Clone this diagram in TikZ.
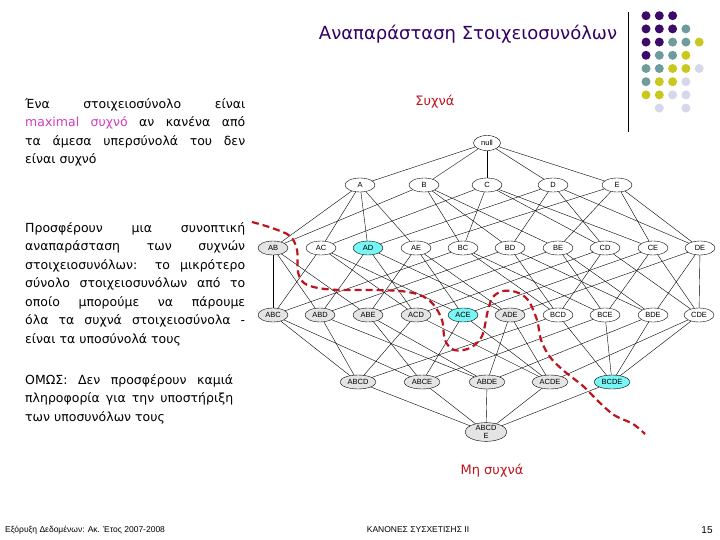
\documentclass[tikz,border=0pt]{standalone}
\usepackage{fontspec}
\setmainfont{DejaVu Sans}
\newfontfamily\nodefont{Liberation Sans}
\usepackage{xcolor}
\usepackage{tikz}
\usetikzlibrary{shapes.geometric}
\definecolor{colTitle}{RGB}{51,0,102}
\definecolor{colRed}{RGB}{190,20,30}
\definecolor{colPink}{RGB}{210,60,190}
\definecolor{colInfreq}{RGB}{228,228,228}
\definecolor{colMax}{RGB}{120,245,245}
\definecolor{colDotA}{RGB}{60,10,105}
\definecolor{colDotB}{RGB}{110,155,155}
\definecolor{colDotC}{RGB}{200,200,30}
\definecolor{colDotD}{RGB}{215,215,235}
\tikzset{
  item/.style={
    draw, ellipse, inner sep=0pt, fill=white,
    minimum width=30pt, minimum height=14pt,
    font=\nodefont\fontsize{7.5}{7.5}\selectfont
  },
  infreq/.style={item, fill=colInfreq},
  maxfreq/.style={item, fill=colMax},
  wide/.style={minimum width=36pt},
  link/.style={draw, line width=0.4pt},
  border/.style={
    draw=colRed, line width=2.2pt, dash pattern=on 7pt off 4pt
  },
  bodytext/.style={
    anchor=north west, inner sep=0pt, text width=220pt, align=justify,
    font=\fontsize{12.5}{18.5}\selectfont
  },
  redlabel/.style={
    text=colRed, font=\fontsize{13}{16}\selectfont
  },
  foot/.style={font=\nodefont\fontsize{8.5}{10}\selectfont, inner sep=0pt}
}

\begin{document}
\begin{tikzpicture}[x=1pt, y=-1pt]
\useasboundingbox (0,0) rectangle (720,540);

% ── Title and decoration ───────────────────────────────────────────────────
\node[text=colTitle, font=\fontsize{18}{22}\selectfont] (title) at (468,34)
  {Αναπαράσταση Στοιχειοσυνόλων};
\coordinate (ruleTop) at (628,12);
\coordinate (ruleBot) at (628,132);
\draw[line width=0.6pt] (ruleTop) -- (ruleBot);

\foreach \c/\r/\col in {
  0/0/colDotA, 1/0/colDotA, 2/0/colDotA,
  0/1/colDotA, 1/1/colDotA, 2/1/colDotA, 3/1/colDotB,
  0/2/colDotA, 1/2/colDotA, 2/2/colDotB, 3/2/colDotB, 4/2/colDotC,
  0/3/colDotA, 1/3/colDotB, 2/3/colDotB, 3/3/colDotC,
  0/4/colDotB, 1/4/colDotB, 2/4/colDotC, 3/4/colDotC, 4/4/colDotD,
  0/5/colDotB, 1/5/colDotC, 2/5/colDotC, 3/5/colDotD,
  0/6/colDotC, 1/6/colDotC, 2/6/colDotD, 3/6/colDotD,
  1/7/colDotD, 3/7/colDotD}
  \fill[\col] ({646+13.3*\c},{15.7+13.2*\r}) circle (4.5);

% ── Left text ──────────────────────────────────────────────────────────────
\node[bodytext] (tDef) at (25,98)
  {Ένα στοιχειοσύνολο είναι\linebreak
   \textcolor{colPink}{maximal συχνό} αν κανένα από\linebreak
   τα άμεσα υπερσύνολά του δεν\linebreak
   είναι συχνό};
\node[bodytext] (tBorder) at (25,222)
  {Προσφέρουν μια συνοπτική\linebreak
   αναπαράσταση των συχνών\linebreak
   στοιχειοσυνόλων: το μικρότερο\linebreak
   σύνολο στοιχειοσυνόλων από το\linebreak
   οποίο μπορούμε να πάρουμε\linebreak
   όλα τα συχνά στοιχειοσύνολα -\linebreak
   είναι τα υποσύνολά τους};
\node[bodytext, text width=208pt] (tNote) at (25,374)
  {ΟΜΩΣ: Δεν προσφέρουν καμιά\linebreak
   πληροφορία για την υποστήριξη\linebreak
   των υποσυνόλων τους};

% ── Lattice nodes ──────────────────────────────────────────────────────────
\node[item, minimum width=27pt, minimum height=15pt] (null) at (487,143) {null};

% Level 1
\node[item] (A) at (360,185) {A};
\node[item] (B) at (424,185) {B};
\node[item] (C) at (487,185) {C};
\node[item] (D) at (553,185) {D};
\node[item] (E) at (617,185) {E};

% Level 2
\node[infreq]  (AB) at (273,248) {AB};
\node[item]    (AC) at (321,248) {AC};
\node[maxfreq] (AD) at (368,248) {AD};
\node[item]    (AE) at (416,248) {AE};
\node[item]    (BC) at (463,248) {BC};
\node[item]    (BD) at (510,248) {BD};
\node[item]    (BE) at (558,248) {BE};
\node[item]    (CD) at (605,248) {CD};
\node[item]    (CE) at (653,248) {CE};
\node[item]    (DE) at (700,248) {DE};

% Level 3
\node[infreq]  (ABC) at (273,315) {ABC};
\node[infreq]  (ABD) at (320,315) {ABD};
\node[infreq]  (ABE) at (368,315) {ABE};
\node[infreq]  (ACD) at (416,315) {ACD};
\node[maxfreq] (ACE) at (463,315) {ACE};
\node[infreq]  (ADE) at (510,315) {ADE};
\node[item]    (BCD) at (558,315) {BCD};
\node[item]    (BCE) at (605,315) {BCE};
\node[item]    (BDE) at (653,315) {BDE};
\node[item]    (CDE) at (699,315) {CDE};

% Level 4
\node[infreq, wide]  (ABCD) at (358,382) {ABCD};
\node[infreq, wide]  (ABCE) at (422,382) {ABCE};
\node[infreq, wide]  (ABDE) at (487,382) {ABDE};
\node[infreq, wide]  (ACDE) at (550,382) {ACDE};
\node[maxfreq, wide] (BCDE) at (612,382) {BCDE};

% Level 5
\node[infreq, minimum width=42pt, minimum height=17pt, align=center,
      font=\nodefont\fontsize{7.5}{8}\selectfont] (ABCDE) at (486,432) {ABCD\\E};

% ── Lattice links ──────────────────────────────────────────────────────────
\foreach \a in {A,B,C,D,E}
  \draw[link] (null) -- (\a);
\foreach \a/\b in {A/AB,A/AC,A/AD,A/AE, B/AB,B/BC,B/BD,B/BE,
                   C/AC,C/BC,C/CD,C/CE, D/AD,D/BD,D/CD,D/DE,
                   E/AE,E/BE,E/CE,E/DE}
  \draw[link] (\a) -- (\b);
\foreach \a/\b in {AB/ABC,AB/ABD,AB/ABE, AC/ABC,AC/ACD,AC/ACE,
                   AD/ABD,AD/ACD,AD/ADE, AE/ABE,AE/ACE,AE/ADE,
                   BC/ABC,BC/BCD,BC/BCE, BD/ABD,BD/BCD,BD/BDE,
                   BE/ABE,BE/BCE,BE/BDE, CD/ACD,CD/BCD,CD/CDE,
                   CE/ACE,CE/BCE,CE/CDE, DE/ADE,DE/BDE,DE/CDE}
  \draw[link] (\a) -- (\b);
\foreach \a/\b in {ABC/ABCD,ABC/ABCE, ABD/ABCD,ABD/ABDE, ABE/ABCE,ABE/ABDE,
                   ACD/ABCD,ACD/ACDE, ACE/ABCE,ACE/ACDE, ADE/ABDE,ADE/ACDE,
                   BCD/ABCD,BCD/BCDE, BCE/ABCE,BCE/BCDE, BDE/ABDE,BDE/BCDE,
                   CDE/ACDE,CDE/BCDE}
  \draw[link] (\a) -- (\b);
\foreach \a in {ABCD,ABCE,ABDE,ACDE,BCDE}
  \draw[link] (\a) -- (ABCDE);

% ── Border between frequent and infrequent ─────────────────────────────────
\draw[border] plot[smooth, tension=0.55] coordinates {
  (252,222) (272,228) (290,236) (297,250) (298,272) (304,283) (318,288)
  (340,290) (370,290) (400,291) (420,295) (433,304) (442,320) (445,340)
  (454,350) (470,348) (482,336) (488,310) (493,297) (503,291) (516,292)
  (528,300) (537,320) (541,340) (550,357) (564,371) (583,386) (598,401)
  (614,415) (633,424) (645,434)};

\node[redlabel] (freq) at (435,102) {Συχνά};
\node[redlabel] (infreq) at (492,471) {Μη συχνά};

% ── Footer ─────────────────────────────────────────────────────────────────
\node[foot, anchor=west] (footL) at (5,530) {Εξόρυξη Δεδομένων: Ακ. Έτος 2007-2008};
\node[foot] (footC) at (418,530) {ΚΑΝΟΝΕΣ ΣΥΣΧΕΤΙΣΗΣ ΙΙ};
\node[foot, font=\nodefont\fontsize{10}{12}\selectfont] (footR) at (707,530) {15};

\end{tikzpicture}
\end{document}
